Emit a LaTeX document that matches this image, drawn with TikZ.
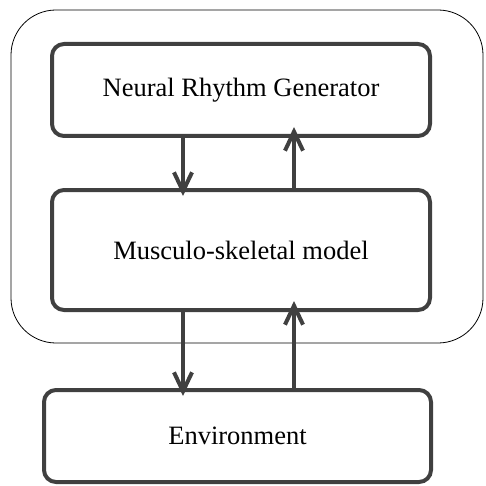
\documentclass[tikz,border=0pt]{standalone}
\usepackage{fontspec}
\setmainfont{Liberation Serif}
\usepackage{tikz}
\usetikzlibrary{positioning,arrows.meta}

\begin{document}
\begin{tikzpicture}[x=1pt, y=1pt,
    every node/.style={draw=black!75, line width=4pt, rounded corners=12pt, font=\fontsize{26.5}{30}\selectfont, minimum width=378pt},
    flow/.style={-{Straight Barb[scale=1.6, scale length=2, scale width=0.95]}, draw=black!75, line width=4pt}]

        \useasboundingbox (0,0) rectangle (486,-486);

        %Outer frame
        \draw[line width=0.8pt, rounded corners=45pt] (11,-10) rectangle (483,-343);

        %Nodes
        \node   (gen) [minimum height=92pt] at (241,-90) {Neural Rhythm Generator};
        \node   (musc) [below=50pt of gen, minimum height=120pt] {Musculo-skeletal model};
        \node   (env) [below=76pt of musc, xshift=-3.5pt, minimum width=387pt, minimum height=92pt] {Environment};

        %Lines
        \draw[flow, shorten >=-8pt] ([xshift=-58pt]gen.south) -- ([xshift=-58pt]musc.north);
        \draw[flow, shorten >=-11pt] ([xshift=53pt]musc.north) -- ([xshift=53pt]gen.south);
        \draw[flow, shorten >=-8pt] ([xshift=-58pt]musc.south) -- ([xshift=-54.5pt]env.north);
        \draw[flow, shorten >=-11pt] ([xshift=56.5pt]env.north) -- ([xshift=53pt]musc.south);

\end{tikzpicture}
\end{document}
